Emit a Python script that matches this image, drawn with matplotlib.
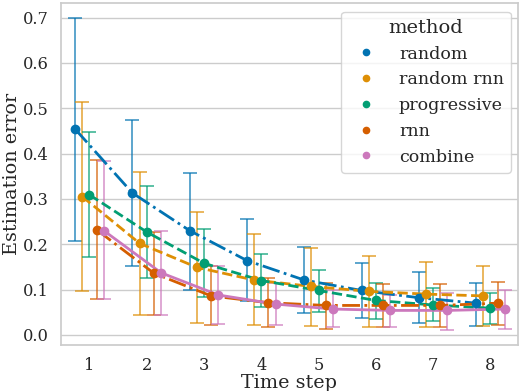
import numpy as np
import matplotlib
matplotlib.use("Agg")
import matplotlib.pyplot as plt
import seaborn as sns

steps = [1, 2, 3, 4, 5, 6, 7, 8]
methods = ["random", "random rnn", "progressive", "rnn", "combine"]

mean = {
    "random":      [0.454, 0.313, 0.230, 0.164, 0.121, 0.098, 0.082, 0.070],
    "random rnn":  [0.305, 0.202, 0.149, 0.121, 0.107, 0.096, 0.090, 0.086],
    "progressive": [0.309, 0.227, 0.158, 0.120, 0.098, 0.076, 0.066, 0.059],
    "rnn":         [0.232, 0.136, 0.086, 0.071, 0.065, 0.065, 0.065, 0.070],
    "combine":     [0.230, 0.137, 0.088, 0.068, 0.057, 0.054, 0.054, 0.057],
}
upper = {
    "random":      [0.699, 0.475, 0.358, 0.256, 0.195, 0.158, 0.138, 0.115],
    "random rnn":  [0.513, 0.360, 0.272, 0.222, 0.191, 0.173, 0.160, 0.152],
    "progressive": [0.447, 0.329, 0.233, 0.178, 0.143, 0.115, 0.103, 0.093],
    "rnn":         [0.386, 0.228, 0.151, 0.125, 0.114, 0.112, 0.113, 0.117],
    "combine":     [0.384, 0.229, 0.151, 0.114, 0.099, 0.088, 0.093, 0.098],
}
lower = {
    "random":      [0.208, 0.151, 0.099, 0.074, 0.049, 0.038, 0.026, 0.020],
    "random rnn":  [0.097, 0.044, 0.027, 0.021, 0.020, 0.018, 0.018, 0.020],
    "progressive": [0.171, 0.125, 0.083, 0.061, 0.051, 0.036, 0.030, 0.024],
    "rnn":         [0.079, 0.044, 0.021, 0.017, 0.013, 0.018, 0.017, 0.022],
    "combine":     [0.079, 0.044, 0.024, 0.021, 0.018, 0.017, 0.011, 0.013],
}

line_styles = ["-.", "--", "--", "-.", "-"]

sns.set_theme(style="whitegrid")
plt.rcParams["font.family"] = ["DejaVu Serif"]

colors = sns.color_palette("colorblind", len(methods))

fig = plt.figure(figsize=(5.2, 3.91), dpi=100)
ax = fig.add_axes([0.117, 0.118, 0.879, 0.874])

offsets = np.linspace(-0.25, 0.25, len(methods))
x = np.array(steps, dtype=float)

for i, m in enumerate(methods):
    xs = x + offsets[i]
    y = np.array(mean[m])
    err = [y - np.array(lower[m]), np.array(upper[m]) - y]
    ax.errorbar(xs, y, yerr=err, fmt="none", ecolor=colors[i], elinewidth=1.2,
                capsize=5, capthick=1.2, alpha=0.75, zorder=2)
    ax.plot(xs, y, color=colors[i], linestyle=line_styles[i], linewidth=2, zorder=3)
    ax.plot(xs, y, "o", color=colors[i], markersize=6, zorder=4, label=m)

ax.set_xlim(0.5, 8.48)
ax.set_ylim(-0.022, 0.732)
ax.set_xticks(steps)
ax.set_yticks(np.arange(0, 0.71, 0.1))
ax.set_yticklabels([f"{v:.1f}" for v in np.arange(0, 0.71, 0.1)])
ax.xaxis.grid(False)
ax.tick_params(labelsize=11.7, pad=3)
ax.set_xlabel("Time step", fontsize=13.8, labelpad=0)
ax.set_ylabel("Estimation error", fontsize=13.8, labelpad=1)

leg = ax.legend(title="method", loc="upper right", fontsize=12.6, title_fontsize=14,
                markerscale=0.75, handletextpad=0.9, borderaxespad=0.4,
                labelspacing=0.5, bbox_to_anchor=(1.0, 0.995))

fig.savefig("out.png", dpi=100)
